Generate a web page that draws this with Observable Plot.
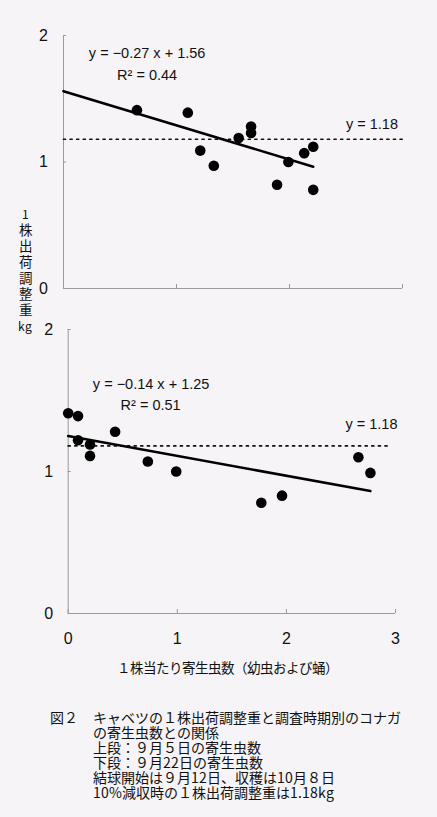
<!DOCTYPE html>
<html><head><meta charset="utf-8">
<script src="https://cdn.jsdelivr.net/npm/d3@7"></script>
<script src="https://cdn.jsdelivr.net/npm/@observablehq/plot@0.6"></script>
<style>
@font-face{font-family:"CapJP";src:local("Noto Sans CJK JP"),local("Noto Sans CJK JP Regular"),local("NotoSansCJKjp-Regular");ascent-override:88%;descent-override:12%;line-gap-override:0%;}
body{margin:0;background:#f6f4f6;}
#wrap{position:relative;width:437px;height:817px;overflow:hidden;background:#f6f4f6;color:#111;}
.abs{position:absolute;}
#ylabel{left:15px;top:206px;width:20px;text-align:center;font-family:"CapJP","Noto Sans CJK JP",sans-serif;font-size:13.5px;line-height:16px;}
#ylabel .sm{font-size:12px;}
#xtitle{left:117px;top:660px;font-family:"CapJP","Noto Sans CJK JP",sans-serif;font-size:13.5px;line-height:16px;white-space:nowrap;}
#caption{left:50px;top:711px;font-family:"CapJP","Noto Sans CJK JP",sans-serif;font-size:14px;line-height:15px;white-space:nowrap;}
#caption .fig{position:absolute;left:0;top:0;}
#caption .body{position:absolute;left:43px;top:0;}
</style></head><body><div id="wrap"></div>
<script>
// ---- data ----
const xTicks = [0, 1, 2, 3];
const yTicks = [0, 1, 2];
const topX = [0.65, 1.10, 1.21, 1.33, 1.55, 1.66, 1.66, 1.89, 1.99, 2.13, 2.21, 2.21];
const topY = [1.41, 1.39, 1.09, 0.97, 1.19, 1.28, 1.23, 0.82, 1.00, 1.07, 1.12, 0.78];
const bottomX = [0.00, 0.09, 0.09, 0.20, 0.20, 0.43, 0.73, 0.99, 1.77, 1.96, 2.66, 2.77];
const bottomY = [1.41, 1.39, 1.22, 1.19, 1.11, 1.28, 1.07, 1.00, 0.78, 0.83, 1.10, 0.99];
const topSlope = -0.27, topIntercept = 1.56, topR2 = 0.44, topFitEnd = 2.21;
const bottomSlope = -0.14, bottomIntercept = 1.25, bottomR2 = 0.51, bottomFitEnd = 2.77;
const threshold = 1.18;
const topThresholdEnd = 3, bottomThresholdEnd = 2.95;
const yLabelChars = ["1", "株", "出", "荷", "調", "整", "重", "kg"];
const xTitle = "１株当たり寄生虫数（幼虫および蛹）";
const figLabel = "図２";
const captionLines = [
  "キャベツの１株出荷調整重と調査時期別のコナガ",
  "の寄生虫数との関係",
  "上段：９月５日の寄生虫数",
  "下段：９月22日の寄生虫数",
  "結球開始は９月12日、収穫は10月８日",
  "10%減収時の１株出荷調整重は1.18kg"
];

const fmt = v => v.toFixed(2);
const eqLabel = (s, b) => `y = ${s < 0 ? "−" : ""}${fmt(Math.abs(s))} x + ${fmt(b)}`;

function panel(o) {
  const pts = o.xs.map((x, i) => ({x, y: o.ys[i]}));
  const fit = [0, o.fitEnd].map(x => ({x, y: o.intercept + o.slope * x}));
  const thr = [0, o.thrEnd].map(x => ({x, y: threshold}));
  const font = "Liberation Sans, Arial, sans-serif";
  return Plot.plot({
    width: 437, height: o.height,
    marginTop: o.mt, marginBottom: o.mb, marginLeft: o.ml, marginRight: o.mr,
    x: {domain: [0, 3], label: null},
    y: {domain: [0, 2], label: null},
    style: {background: "transparent", fontFamily: font, color: "#111"},
    marks: [
      Plot.ruleX([0], {y1: 0, y2: 2, stroke: "#9a9a9a", strokeWidth: 1}),
      Plot.ruleY([0], {x1: 0, x2: 3, stroke: "#9a9a9a", strokeWidth: 1}),
      Plot.axisY({ticks: yTicks, label: null, tickSize: -3, tickPadding: o.yPad, fontSize: 16, stroke: "#9a9a9a", fill: "#111", tickFormat: d => String(d)}),
      Plot.axisX({ticks: xTicks, label: null, tickSize: -4, tickPadding: o.xPad, fontSize: 16, stroke: "#9a9a9a", fill: "#111", tickFormat: o.showX ? (d => String(d)) : (() => "")}),
      Plot.line(thr, {x: "x", y: "y", stroke: "#111", strokeWidth: 1.7, strokeDasharray: "2,4.6"}),
      Plot.line(fit, {x: "x", y: "y", stroke: "#000", strokeWidth: 2.6}),
      Plot.dot(pts, {x: "x", y: "y", r: 5.3, fill: "#000", stroke: "none"}),
      Plot.text([eqLabel(o.slope, o.intercept)], {x: o.eqX, y: o.eqY, fontSize: 14.5, fill: "#111", fontFamily: font}),
      Plot.text([`R² = ${fmt(o.r2)}`], {x: o.r2X, y: o.r2Y, fontSize: 14.5, fill: "#111", fontFamily: font}),
      Plot.text([`y = ${threshold}`], {x: o.thrX, y: o.thrY, fontSize: 14.5, fill: "#111", fontFamily: font})
    ]
  });
}

const wrap = document.getElementById("wrap");

const topPanel = panel({
  height: 300, mt: 35, mb: 12, ml: 63, mr: 35, yPad: 18.5, xPad: 20, showX: false,
  xs: topX, ys: topY, slope: topSlope, intercept: topIntercept, r2: topR2, fitEnd: topFitEnd,
  thrEnd: topThresholdEnd,
  eqX: 0.74, eqY: 1.86, r2X: 0.74, r2Y: 1.685, thrX: 2.73, thrY: 1.30
});
topPanel.classList.add("abs"); topPanel.style.left = "0px"; topPanel.style.top = "0px";
wrap.appendChild(topPanel);

const bottomPanel = panel({
  height: 340, mt: 19, mb: 37, ml: 67.7, mr: 42, yPad: 18, xPad: 23, showX: true,
  xs: bottomX, ys: bottomY, slope: bottomSlope, intercept: bottomIntercept, r2: bottomR2, fitEnd: bottomFitEnd,
  thrEnd: bottomThresholdEnd,
  eqX: 0.76, eqY: 1.615, r2X: 0.755, r2Y: 1.468, thrX: 2.78, thrY: 1.33
});
bottomPanel.classList.add("abs"); bottomPanel.style.left = "0px"; bottomPanel.style.top = "310px";
wrap.appendChild(bottomPanel);

const yl = document.createElement("div");
yl.id = "ylabel"; yl.className = "abs";
yLabelChars.forEach((c, i) => {
  const d = document.createElement("div");
  d.textContent = c;
  if (i === 0 || c === "kg") d.className = "sm";
  yl.appendChild(d);
});
wrap.appendChild(yl);

const xt = document.createElement("div");
xt.id = "xtitle"; xt.className = "abs"; xt.textContent = xTitle;
wrap.appendChild(xt);

const cap = document.createElement("div");
cap.id = "caption"; cap.className = "abs";
const fl = document.createElement("div"); fl.className = "fig"; fl.textContent = figLabel;
const body = document.createElement("div"); body.className = "body";
captionLines.forEach(t => { const d = document.createElement("div"); d.textContent = t; body.appendChild(d); });
cap.appendChild(fl); cap.appendChild(body);
wrap.appendChild(cap);
</script>
</body></html>
